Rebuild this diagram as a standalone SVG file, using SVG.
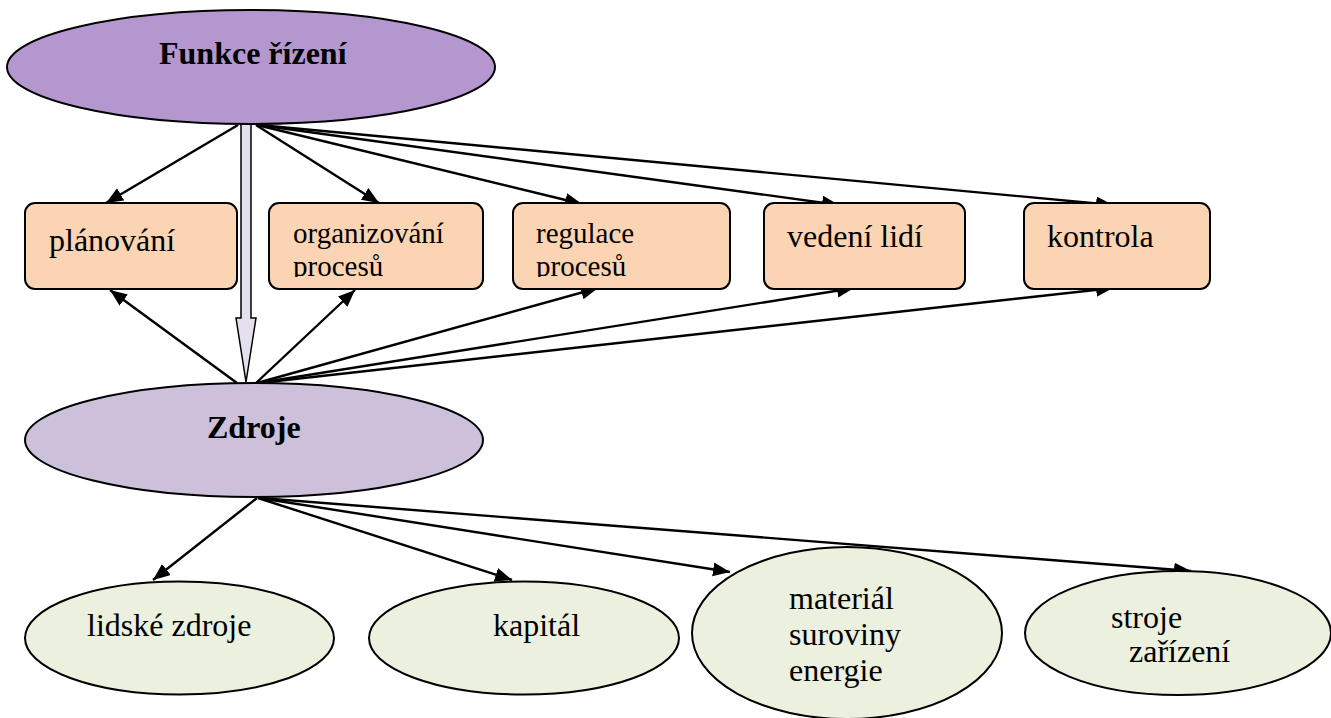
<svg xmlns="http://www.w3.org/2000/svg" width="1331" height="718" viewBox="0 0 1331 718">
<style>
text{font-family:"Liberation Serif","Times New Roman",serif;fill:#000}
.b{font-weight:bold;font-size:32px}
.t{font-size:32px}
.s{font-size:29px}
.box{fill:#FBD4B4;stroke:#000;stroke-width:2}
.res{fill:#EBF1DE;stroke:#000;stroke-width:2}
.ln{stroke:#000;stroke-width:2.4;fill:none;marker-end:url(#ah)}
</style>
<defs>
<marker id="ah" markerUnits="userSpaceOnUse" markerWidth="20" markerHeight="16" refX="17" refY="7" orient="auto">
<path d="M0,0 L17,7 L0,14 Z" fill="#000"/>
</marker>
<clipPath id="c1"><rect x="260" y="200" width="240" height="77"/></clipPath>
<clipPath id="c2"><rect x="505" y="200" width="240" height="77"/></clipPath>
</defs>
<g id="connectors">
<line class="ln" x1="238" y1="125" x2="106" y2="203"/>
<line class="ln" x1="256" y1="125" x2="379" y2="203"/>
<line class="ln" x1="257" y1="125" x2="582" y2="204"/>
<line class="ln" x1="258" y1="125" x2="839" y2="205"/>
<line class="ln" x1="259" y1="125" x2="1113" y2="205"/>
<line class="ln" x1="237" y1="383" x2="110" y2="290"/>
<line class="ln" x1="256" y1="383" x2="355" y2="290"/>
<line class="ln" x1="257" y1="383" x2="598" y2="288"/>
<line class="ln" x1="258" y1="383" x2="854" y2="288"/>
<line class="ln" x1="259" y1="383" x2="1113" y2="288"/>
<line class="ln" x1="257" y1="498" x2="153" y2="580"/>
<line class="ln" x1="258" y1="498" x2="512" y2="580"/>
<line class="ln" x1="259" y1="498" x2="730" y2="572"/>
<line class="ln" x1="260" y1="498" x2="1191" y2="571"/>
<polygon points="241,124 251,124 251,318 256,318 246,382 236,318 241,318" fill="#E4E0EE" stroke="#000" stroke-width="1.5"/>
</g>
<g id="funkce">
<ellipse cx="251" cy="67" rx="244" ry="57" fill="#B597CF" stroke="#000" stroke-width="2"/>
<text class="b" x="159" y="64">Funkce řízení</text>
</g>
<g id="planovani">
<rect class="box" x="25" y="203" width="212" height="86" rx="10"/>
<text class="t" x="49" y="251">plánování</text>
</g>
<g id="organizovani">
<rect class="box" x="269" y="203" width="214" height="86" rx="10"/>
<g clip-path="url(#c1)">
<text class="s" x="293" y="243">organizování</text>
<text class="s" x="293" y="276">procesů</text>
</g>
</g>
<g id="regulace">
<rect class="box" x="513" y="203" width="217" height="86" rx="10"/>
<g clip-path="url(#c2)">
<text class="s" x="536" y="243">regulace</text>
<text class="s" x="536" y="276">procesů</text>
</g>
</g>
<g id="vedeni">
<rect class="box" x="764" y="203" width="201" height="86" rx="10"/>
<text class="t" x="787" y="247">vedení lidí</text>
</g>
<g id="kontrola">
<rect class="box" x="1024" y="203" width="186" height="86" rx="10"/>
<text class="t" x="1047" y="247">kontrola</text>
</g>
<g id="zdroje">
<ellipse cx="254" cy="440" rx="229" ry="57" fill="#CCC0DA" stroke="#000" stroke-width="2"/>
<text class="b" x="207" y="438">Zdroje</text>
</g>
<g id="lidske">
<ellipse class="res" cx="179.5" cy="638" rx="154.5" ry="56.5"/>
<text class="t" x="87" y="636">lidské zdroje</text>
</g>
<g id="kapital">
<ellipse class="res" cx="524" cy="638" rx="155" ry="56.5"/>
<text class="t" x="493" y="636">kapitál</text>
</g>
<g id="material">
<ellipse class="res" cx="847" cy="633" rx="155" ry="86"/>
<text class="t" x="789" y="609">materiál</text>
<text class="t" x="789" y="645">suroviny</text>
<text class="t" x="789" y="681">energie</text>
</g>
<g id="stroje">
<ellipse class="res" cx="1178" cy="633" rx="153" ry="62"/>
<text class="t" x="1111" y="628">stroje</text>
<text class="t" x="1129" y="662">zařízení</text>
</g>
</svg>
